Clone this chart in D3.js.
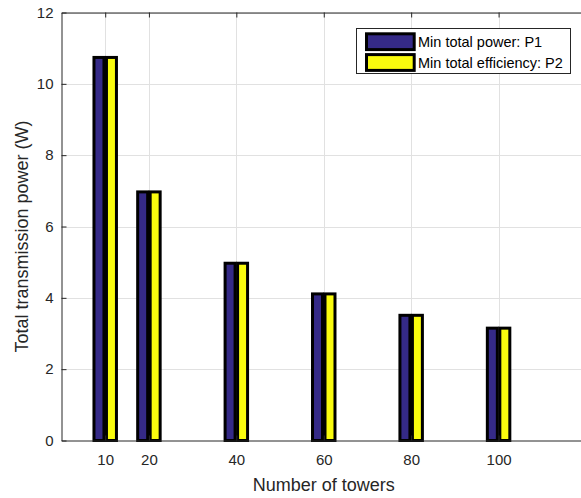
<!DOCTYPE html>
<html>
<head>
<meta charset="utf-8">
<script src="https://cdn.jsdelivr.net/npm/d3@7/dist/d3.min.js"></script>
<style>
  html, body { margin: 0; padding: 0; background: #fff; }
  svg { display: block; font-family: "Liberation Sans", Arial, sans-serif; }
</style>
</head>
<body>
<svg id="chart" width="581" height="498"></svg>
<script>
// Number of towers on the x axis
const towers = [10, 20, 40, 60, 80, 100];
// Total transmission power (W) for each scheme
const p1Power = [10.74, 6.97, 4.97, 4.11, 3.51, 3.15];
const p2Power = [10.74, 6.97, 4.97, 4.11, 3.51, 3.15];
const seriesNames = ["Min total power: P1", "Min total efficiency: P2"];
const seriesColors = ["#352a87", "#f9fb0e"];
const xTickValues = [10, 20, 40, 60, 80, 100];
const yTickValues = [0, 2, 4, 6, 8, 10, 12];

const svg = d3.select("#chart");
const plotL = 61.5, plotR = 586, plotT = 12.5, plotB = 440.5;
const axisColor = "#262626";

const x = d3.scaleLinear().domain([0, 120]).range([plotL, plotR]);
const y = d3.scaleLinear().domain([0, 12]).range([plotB, plotT]);

// grid
const grid = svg.append("g");
grid.selectAll("line.gx").data(xTickValues).join("line")
  .attr("x1", d => Math.round(x(d)) + 0.5).attr("x2", d => Math.round(x(d)) + 0.5)
  .attr("y1", plotT).attr("y2", plotB)
  .attr("stroke", "#e1e1e1").attr("stroke-width", 1);
grid.selectAll("line.gy").data(yTickValues.slice(1)).join("line")
  .attr("x1", plotL).attr("x2", plotR)
  .attr("y1", d => Math.round(y(d)) + 0.5).attr("y2", d => Math.round(y(d)) + 0.5)
  .attr("stroke", "#e1e1e1").attr("stroke-width", 1);

// grouped bars: group width 4/7 of spacing, bar width 0.8 of its slot
const spacing = 10;
const groupW = Math.min(0.8, 2 / 3.5) * spacing;
const slot = groupW / 2;
const barW = 0.8 * slot;
const series = [p1Power, p2Power];
series.forEach((vals, si) => {
  const off = (si - 0.5) * slot;
  svg.append("g").selectAll("rect").data(towers.map((t, i) => ({ t, v: vals[i] }))).join("rect")
    .attr("x", d => x(d.t + off - barW / 2))
    .attr("width", d => x(d.t + off + barW / 2) - x(d.t + off - barW / 2))
    .attr("y", d => y(d.v))
    .attr("height", d => y(0) - y(d.v))
    .attr("fill", seriesColors[si])
    .attr("stroke", "#000")
    .attr("stroke-width", 3);
});

// axes (ticks point inward)
const xAxis = svg.append("g").attr("transform", `translate(0,${plotB})`)
  .call(d3.axisBottom(x).tickValues(xTickValues).tickSizeInner(-5).tickSizeOuter(0).tickPadding(13.5));
const xTop = svg.append("g").attr("transform", `translate(0,${plotT})`)
  .call(d3.axisTop(x).tickValues(xTickValues).tickSizeInner(-5).tickSizeOuter(0).tickFormat(""));
const yAxis = svg.append("g").attr("transform", `translate(${plotL},0)`)
  .call(d3.axisLeft(y).tickValues(yTickValues).tickSizeInner(-5).tickSizeOuter(0).tickPadding(8));

[xAxis, xTop, yAxis].forEach(g => {
  g.select(".domain").attr("stroke", axisColor);
  g.selectAll(".tick line").attr("stroke", axisColor);
  g.selectAll("text").attr("fill", axisColor)
    .style("font-family", "'Liberation Sans', Arial, sans-serif").style("font-size", "15px");
});

// axis titles
svg.append("text")
  .attr("x", (plotL + plotR) / 2).attr("y", 490.5)
  .attr("text-anchor", "middle")
  .attr("fill", axisColor).style("font-size", "18px")
  .text("Number of towers");
svg.append("text")
  .attr("transform", `translate(28,${(plotT + plotB) / 2 + 10}) rotate(-90)`)
  .attr("text-anchor", "middle")
  .attr("fill", axisColor).style("font-size", "18px")
  .text("Total transmission power (W)");

// legend
const lg = svg.append("g");
lg.append("rect").attr("x", 356.5).attr("y", 28.5).attr("width", 214).attr("height", 45)
  .attr("fill", "#fff").attr("stroke", axisColor).attr("stroke-width", 1);
const entries = lg.selectAll("g.entry").data(seriesNames).join("g")
  .attr("transform", (d, i) => `translate(0,${i * 20.8})`);
entries.append("rect").attr("x", 366.5).attr("y", 33.8).attr("width", 47.7).attr("height", 15.8)
  .attr("fill", (d, i) => seriesColors[i]).attr("stroke", "#000").attr("stroke-width", 3);
entries.append("text").attr("x", 418).attr("y", 47)
  .attr("fill", "#000").style("font-size", "14.5px")
  .text(d => d);
</script>
</body>
</html>
